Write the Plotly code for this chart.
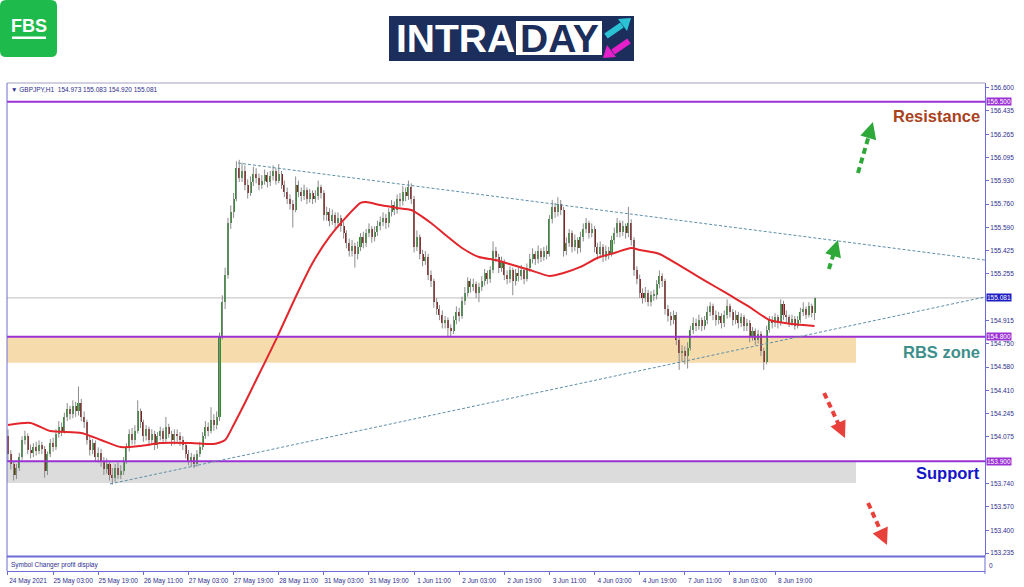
import numpy as np
import plotly.graph_objects as go

W, H = 1024, 587
def X(px): return px / W
def Y(py): return 1 - py / H

# ---------------- data (GBPJPY H1, 24 May 11:00 -> 9 Jun 09:00) ----------------
first_open = 154.08
close = [
    153.95,153.88,153.80,153.85,153.93,154.05,154.08,153.98,153.96,154.00,153.97,154.02,153.99,
    153.83,153.95,154.03,154.00,154.10,154.15,154.12,154.22,154.28,154.24,154.30,154.26,154.32,154.22,154.18,154.05,153.98,154.03,153.93,153.96,153.90,153.84,153.88,153.80,
    153.78,153.85,153.80,153.83,153.90,154.00,154.10,154.05,154.12,154.26,154.18,154.08,154.13,154.05,154.10,154.02,154.08,154.12,154.06,154.15,154.10,154.05,154.10,154.08,
    154.05,154.02,153.95,153.90,153.93,153.88,153.95,154.00,154.08,154.15,154.12,154.20,154.16,154.22,154.80,155.05,155.25,155.62,155.70,155.80,156.02,155.95,156.00,155.90,
    155.84,155.92,155.98,155.95,155.90,155.93,155.97,155.92,155.96,156.00,155.93,155.98,155.90,155.85,155.80,155.76,155.72,155.90,155.85,155.82,155.86,155.80,155.84,155.80,
    155.82,155.88,155.84,155.68,155.70,155.64,155.68,155.62,155.66,155.60,155.55,155.48,155.42,155.46,155.40,155.45,155.52,155.48,155.55,155.58,155.52,155.56,155.60,155.63,
    155.66,155.62,155.70,155.75,155.72,155.80,155.78,155.85,155.82,155.88,155.80,155.45,155.52,155.40,155.35,155.38,155.25,155.20,155.05,155.00,154.96,154.90,154.92,154.86,
    154.84,154.92,154.98,154.95,155.06,155.12,155.20,155.16,155.18,155.12,155.16,155.20,155.26,155.22,155.28,155.42,155.38,155.30,155.34,155.25,155.22,155.28,155.20,155.26,
    155.24,155.28,155.22,155.30,155.36,155.40,155.36,155.42,155.38,155.42,155.40,155.65,155.74,155.70,155.76,155.72,155.42,155.48,155.55,155.45,155.50,155.44,155.52,155.58,
    155.62,155.55,155.58,155.45,155.40,155.45,155.38,155.42,155.40,155.50,155.55,155.62,155.56,155.60,155.55,155.62,155.50,155.28,155.22,155.12,155.08,155.12,155.05,155.10,
    155.10,155.18,155.24,155.20,155.00,154.95,154.92,154.96,154.78,154.68,154.70,154.66,154.72,154.85,154.90,154.88,154.92,154.88,154.92,154.98,155.02,154.96,154.92,154.95,
    154.90,154.96,155.02,154.98,154.92,154.96,154.90,154.94,154.88,154.90,154.80,154.84,154.78,154.82,154.70,154.62,154.85,154.92,154.90,154.94,154.90,155.04,154.96,154.94,
    154.90,154.93,154.88,154.92,154.98,155.00,154.96,155.02,154.973,155.081,
]
high = [
    154.13,153.98,153.90,153.88,153.96,154.08,154.12,154.10,154.02,154.03,154.04,154.05,154.04,
    154.01,153.97,154.06,154.07,154.13,154.19,154.18,154.25,154.32,154.30,154.34,154.33,154.44,154.35,154.26,154.20,154.08,154.06,154.05,154.00,153.99,153.93,153.92,153.90,
    153.85,153.88,153.89,153.87,153.93,154.03,154.13,154.14,154.16,154.34,154.28,154.20,154.16,154.15,154.13,154.12,154.11,154.15,154.14,154.22,154.17,154.12,154.13,154.13,
    154.11,154.08,154.04,153.98,153.96,153.95,153.98,154.04,154.11,154.19,154.18,154.29,154.24,154.26,154.83,155.10,155.30,155.66,155.75,155.84,156.07,156.08,156.06,156.04,
    155.94,155.96,156.03,156.02,155.98,155.97,156.01,155.99,156.00,156.04,156.02,156.05,156.00,155.93,155.88,155.83,155.79,155.96,155.93,155.88,155.90,155.88,155.87,155.86,
    155.86,155.93,155.90,155.86,155.74,155.73,155.72,155.70,155.70,155.68,155.63,155.57,155.51,155.50,155.48,155.49,155.55,155.56,155.58,155.62,155.60,155.60,155.64,155.67,
    155.70,155.69,155.73,155.79,155.78,155.83,155.84,155.89,155.88,155.93,155.91,155.82,155.57,155.54,155.43,155.42,155.40,155.28,155.22,155.08,155.03,154.99,154.95,154.94,
    154.89,154.95,155.02,155.01,155.09,155.16,155.23,155.22,155.22,155.20,155.19,155.24,155.29,155.28,155.31,155.49,155.45,155.40,155.38,155.36,155.28,155.31,155.30,155.29,
    155.30,155.32,155.30,155.33,155.40,155.44,155.42,155.46,155.44,155.45,155.46,155.68,155.79,155.77,155.81,155.79,155.74,155.52,155.58,155.57,155.54,155.52,155.56,155.62,
    155.66,155.64,155.62,155.60,155.48,155.49,155.47,155.46,155.45,155.53,155.59,155.66,155.64,155.64,155.62,155.74,155.65,155.52,155.31,155.25,155.15,155.16,155.14,155.13,
    155.14,155.21,155.28,155.26,155.22,155.03,154.98,154.99,154.98,154.80,154.74,154.73,154.76,154.88,154.94,154.93,154.96,154.94,154.95,155.02,155.05,155.04,154.99,154.98,
    154.97,154.99,155.07,155.04,155.00,154.99,154.98,154.97,154.96,154.93,154.92,154.87,154.86,154.85,154.84,154.72,154.88,154.95,154.95,154.97,154.96,155.07,155.06,154.99,
    154.96,154.96,154.95,154.95,155.01,155.05,155.02,155.05,155.04,155.083,
]
low = [
    153.90,153.84,153.76,153.77,153.83,153.91,154.02,153.95,153.92,153.93,153.94,153.95,153.95,
    153.78,153.80,153.93,153.97,153.98,154.07,154.08,154.10,154.19,154.20,154.21,154.22,154.23,154.19,154.14,154.02,153.94,153.95,153.90,153.89,153.86,153.80,153.81,153.76,
    153.73,153.75,153.77,153.77,153.80,153.88,153.97,154.02,154.02,154.10,154.14,154.04,154.05,154.01,154.02,153.98,153.99,154.05,154.03,154.04,154.07,154.01,154.02,154.04,
    154.01,153.98,153.92,153.87,153.86,153.85,153.86,153.93,153.98,154.06,154.08,154.10,154.12,154.13,154.19,154.78,155.00,155.22,155.58,155.66,155.78,155.92,155.92,155.86,
    155.80,155.82,155.89,155.91,155.86,155.87,155.90,155.88,155.89,155.93,155.90,155.91,155.87,155.81,155.76,155.72,155.59,155.70,155.81,155.78,155.79,155.76,155.77,155.76,
    155.77,155.79,155.80,155.64,155.64,155.60,155.61,155.58,155.59,155.56,155.51,155.44,155.38,155.38,155.30,155.36,155.42,155.44,155.45,155.52,155.48,155.49,155.53,155.57,
    155.60,155.58,155.59,155.67,155.68,155.69,155.74,155.75,155.78,155.79,155.76,155.41,155.42,155.36,155.31,155.32,155.21,155.16,155.01,154.96,154.92,154.86,154.86,154.80,
    154.80,154.82,154.89,154.91,154.93,155.03,155.09,155.12,155.13,155.08,155.05,155.13,155.17,155.18,155.19,155.26,155.34,155.26,155.27,155.21,155.18,155.19,155.10,155.17,
    155.20,155.21,155.18,155.20,155.27,155.33,155.32,155.33,155.34,155.35,155.36,155.38,155.62,155.66,155.67,155.68,155.38,155.39,155.45,155.41,155.42,155.40,155.41,155.49,
    155.55,155.51,155.52,155.41,155.36,155.37,155.34,155.35,155.36,155.38,155.47,155.52,155.52,155.53,155.51,155.52,155.46,155.24,155.18,155.08,155.04,155.05,155.02,155.02,
    155.06,155.07,155.15,155.16,154.96,154.91,154.88,154.89,154.74,154.56,154.62,154.60,154.57,154.70,154.82,154.84,154.85,154.84,154.85,154.89,154.95,154.92,154.88,154.89,
    154.86,154.87,154.93,154.94,154.88,154.89,154.86,154.87,154.84,154.84,154.76,154.77,154.74,154.75,154.66,154.56,154.60,154.83,154.86,154.87,154.86,154.88,154.92,154.90,
    154.87,154.88,154.85,154.86,154.90,154.95,154.93,154.94,154.94,154.920,
]

# moving average (red line), sampled at bar indices
ma_idx = [0,8,15,26,33,40,47,54,65,73,77,80,84,88,95,102,108,114,120,125,127,132,138,143,150,156,
          161,167,173,179,185,192,197,203,209,215,221,224,231,239,245,251,257,263,270,278,286]
ma_val = [154.162,154.176,154.118,154.104,154.053,154.002,154.010,154.031,154.031,154.024,154.053,
          154.162,154.321,154.487,154.777,155.088,155.334,155.522,155.667,155.768,155.775,155.753,
          155.732,155.717,155.623,155.522,155.442,155.377,155.355,155.319,155.283,155.240,155.261,
          155.305,155.370,155.406,155.442,155.428,155.399,155.305,155.232,155.160,155.088,155.015,
          154.921,154.892,154.878]

x_tick_labels = ["24 May 2021","25 May 03:00","25 May 19:00","26 May 11:00","27 May 03:00",
                 "27 May 19:00","28 May 11:00","31 May 03:00","31 May 19:00","1 Jun 11:00",
                 "2 Jun 03:00","2 Jun 19:00","3 Jun 11:00","4 Jun 03:00","4 Jun 19:00",
                 "7 Jun 11:00","8 Jun 03:00","8 Jun 19:00"]
x_tick_step = 16
y_tick_vals = [156.600,156.435,156.265,156.095,155.930,155.760,155.590,155.425,155.255,
               154.915,154.750,154.580,154.410,154.245,154.075,153.740,153.570,153.400,153.235]

resistance_level = 156.500
rbs_level = 154.800
support_level = 153.900
last_price = 155.081
rbs_zone = [154.612, 154.800]
support_zone = [153.742, 153.900]
zone_end_bar = 300.7

upper_trend_x = [81.6, 346.45]
upper_trend_y = [156.057, 155.355]
lower_trend_x = [36.2, 346.45]
lower_trend_y = [153.735, 155.088]

# projected-move arrows: (tail bar, tail price, head bar, head price)
green_arrows = [(301.4, 155.985, 306.7, 156.354), (291.1, 155.29, 294.3, 155.50)]
red_arrows = [(289.4, 154.393, 296.8, 154.067), (305.0, 153.597, 311.7, 153.293)]

header_text = "▼ GBPJPY,H1  154.973 155.083 154.920 155.081"

# ---------------- styling ----------------
BULL = "#2f8c2f"
BEAR = "#8a1c1c"
WICK = "#8c8c8c"
AX = "#6c6cd6"
TXT = "#2e2e8c"
PURPLE = "#9b30d3"
FONT = "Liberation Sans"
X_RANGE = [-0.35, 346.45]
Y_RANGE = [153.2209, 156.636]

idx = np.arange(len(close))
cls = np.array(close)
opn = np.array([first_open] + close[:-1])
hi = np.array(high)
lo = np.array(low)
up = cls >= opn
body_base = np.minimum(opn, cls)
body_h = np.maximum(np.abs(cls - opn), 0.006)
body_col = np.where(up, BULL, BEAR)

wick_x, wick_y = [], []
for i in idx:
    wick_x += [int(i), int(i), None]
    wick_y += [float(lo[i]), float(hi[i]), None]

fig = go.Figure()
fig.add_trace(go.Scatter(x=wick_x, y=wick_y, mode="lines",
                         line=dict(color=WICK, width=1), hoverinfo="skip", showlegend=False))
fig.add_trace(go.Bar(x=idx, y=body_h, base=body_base, width=0.72,
                     marker=dict(color=body_col, line=dict(width=0)),
                     hoverinfo="skip", showlegend=False))
fig.add_trace(go.Scatter(x=ma_idx, y=ma_val, mode="lines",
                         line=dict(color="#e3262b", width=2, shape="spline", smoothing=0.6),
                         hoverinfo="skip", showlegend=False))

shapes = []
# zones
shapes.append(dict(type="rect", xref="x", yref="y", x0=X_RANGE[0], x1=zone_end_bar,
                   y0=rbs_zone[0], y1=rbs_zone[1], fillcolor="#f6dbad", line=dict(width=0), layer="below"))
shapes.append(dict(type="rect", xref="x", yref="y", x0=X_RANGE[0], x1=zone_end_bar,
                   y0=support_zone[0], y1=support_zone[1], fillcolor="#dcdcdc", line=dict(width=0), layer="below"))
# current price line
shapes.append(dict(type="line", xref="paper", yref="y", x0=X(7), x1=X(985), y0=last_price, y1=last_price,
                   line=dict(color="#bdbdbd", width=1), layer="below"))
# level lines
for lv in (resistance_level, rbs_level, support_level):
    shapes.append(dict(type="line", xref="paper", yref="y", x0=X(7), x1=X(985), y0=lv, y1=lv,
                       line=dict(color=PURPLE, width=2), layer="above"))
# trend lines
for tx, ty in ((upper_trend_x, upper_trend_y), (lower_trend_x, lower_trend_y)):
    shapes.append(dict(type="line", xref="x", yref="y", x0=tx[0], x1=tx[1], y0=ty[0], y1=ty[1],
                       line=dict(color="#5d8fa6", width=1, dash="3px,2px")))
# frame
shapes.append(dict(type="line", xref="paper", yref="paper", x0=X(7), x1=X(985), y0=Y(83), y1=Y(83),
                   line=dict(color="#a2a2c4", width=1)))
shapes.append(dict(type="line", xref="paper", yref="paper", x0=X(7), x1=X(7), y0=Y(83), y1=Y(571),
                   line=dict(color=AX, width=1)))
shapes.append(dict(type="line", xref="paper", yref="paper", x0=X(7), x1=X(985), y0=Y(556.5), y1=Y(556.5),
                   line=dict(color=AX, width=2)))
shapes.append(dict(type="line", xref="paper", yref="paper", x0=X(985), x1=X(985), y0=Y(555), y1=Y(574),
                   line=dict(color=AX, width=1)))

annotations = []
# arrows
for arrows, col in ((green_arrows, "#2fa83a"), (red_arrows, "#e8413c")):
    for tx, ty, hx, hy in arrows:
        sx, sy = tx + 0.78 * (hx - tx), ty + 0.78 * (hy - ty)
        shapes.append(dict(type="line", xref="x", yref="y", x0=tx, y0=ty, x1=sx, y1=sy,
                           line=dict(color=col, width=4, dash="6px,4px")))
        ax_, ay_ = tx + 0.72 * (hx - tx), ty + 0.72 * (hy - ty)
        annotations.append(dict(x=hx, y=hy, ax=ax_, ay=ay_, xref="x", yref="y", axref="x", ayref="y",
                                text="", showarrow=True, arrowhead=2, arrowsize=1.1,
                                arrowwidth=3, arrowcolor=col))

# highlighted price labels on the axis
for lv, bg in ((resistance_level, PURPLE), (last_price, "#1d1dc4"), (rbs_level, PURPLE), (support_level, PURPLE)):
    annotations.append(dict(x=X(986), y=lv, xref="paper", yref="y", xanchor="left", yanchor="middle",
                            text=f"{lv:.3f}", showarrow=False, bgcolor=bg, borderpad=0,
                            font=dict(family=FONT, size=6.5, color="white")))

# zone titles
for txt, lv, col in (("Resistance", 156.397, "#a9421d"), ("RBS zone", 154.690, "#3e8f8b"),
                     ("Support", 153.814, "#1515c8")):
    annotations.append(dict(x=X(982), y=lv, xref="paper", yref="y", xanchor="right", yanchor="middle",
                            text=f"<b>{txt}</b>", showarrow=False,
                            font=dict(family=FONT, size=16.5, color=col)))

# header & sub-window texts
annotations.append(dict(x=X(9), y=Y(89), xref="paper", yref="paper", xanchor="left", yanchor="middle",
                        text=header_text, showarrow=False, font=dict(family=FONT, size=6.5, color=TXT)))
annotations.append(dict(x=X(9), y=Y(564.5), xref="paper", yref="paper", xanchor="left", yanchor="middle",
                        text="Symbol Changer profit display", showarrow=False,
                        font=dict(family=FONT, size=6.5, color=TXT)))
annotations.append(dict(x=X(987), y=Y(565), xref="paper", yref="paper", xanchor="left", yanchor="middle",
                        text="0", showarrow=False, font=dict(family=FONT, size=6.5, color=TXT)))

# ---------------- logos ----------------
def rrect(x0, y0, x1, y1, r):
    return (f"M{X(x0+r)},{Y(y0)} L{X(x1-r)},{Y(y0)} Q{X(x1)},{Y(y0)} {X(x1)},{Y(y0+r)} "
            f"L{X(x1)},{Y(y1-r)} Q{X(x1)},{Y(y1)} {X(x1-r)},{Y(y1)} L{X(x0+r)},{Y(y1)} "
            f"Q{X(x0)},{Y(y1)} {X(x0)},{Y(y1-r)} L{X(x0)},{Y(y0+r)} Q{X(x0)},{Y(y0)} {X(x0+r)},{Y(y0)} Z")

shapes.append(dict(type="path", xref="paper", yref="paper", path=rrect(0, 0, 57, 57, 6),
                   fillcolor="#1fba4c", line=dict(width=0)))
shapes.append(dict(type="rect", xref="paper", yref="paper", x0=X(12), x1=X(46), y0=Y(39), y1=Y(36.5),
                   fillcolor="white", line=dict(width=0)))
annotations.append(dict(x=X(29), y=Y(26), xref="paper", yref="paper", xanchor="center", yanchor="middle",
                        text="<b>FBS</b>", showarrow=False,
                        font=dict(family=FONT, size=18, color="white")))

shapes.append(dict(type="rect", xref="paper", yref="paper", x0=X(389), x1=X(634), y0=Y(61), y1=Y(16),
                   fillcolor="#1c2e5c", line=dict(width=0)))
shapes.append(dict(type="rect", xref="paper", yref="paper", x0=X(516), x1=X(602), y0=Y(55), y1=Y(21),
                   fillcolor="white", line=dict(width=0)))
annotations.append(dict(x=X(394), y=Y(39), xref="paper", yref="paper", xanchor="left", yanchor="middle",
                        text="<b>INTRA</b>", showarrow=False, font=dict(family=FONT, size=39, color="white")))
annotations.append(dict(x=X(559), y=Y(39), xref="paper", yref="paper", xanchor="center", yanchor="middle",
                        text="<b>DAY</b>", showarrow=False, font=dict(family=FONT, size=39, color="#1c2e5c")))
# logo arrows
shapes.append(dict(type="line", xref="paper", yref="paper", x0=X(606), y0=Y(36), x1=X(622), y1=Y(25),
                   line=dict(color="#2cc2d6", width=6)))
shapes.append(dict(type="path", xref="paper", yref="paper",
                   path=f"M{X(631)},{Y(18)} L{X(627)},{Y(31)} L{X(618)},{Y(19)} Z",
                   fillcolor="#2cc2d6", line=dict(width=0)))
shapes.append(dict(type="line", xref="paper", yref="paper", x0=X(629), y0=Y(41), x1=X(613), y1=Y(52),
                   line=dict(color="#e51fc9", width=6)))
shapes.append(dict(type="path", xref="paper", yref="paper",
                   path=f"M{X(603)},{Y(58)} L{X(607)},{Y(45)} L{X(616)},{Y(57)} Z",
                   fillcolor="#e51fc9", line=dict(width=0)))

fig.update_layout(
    width=W, height=H, autosize=False,
    margin=dict(l=0, r=0, t=0, b=0),
    paper_bgcolor="white", plot_bgcolor="white",
    showlegend=False, barmode="overlay", bargap=0,
    font=dict(family=FONT, size=7, color=TXT),
    xaxis=dict(domain=[X(7), X(985)], range=X_RANGE, anchor="free", position=Y(571),
               showgrid=False, zeroline=False, showline=True, linecolor=AX, linewidth=1,
               tickmode="array", tickvals=[k * x_tick_step for k in range(len(x_tick_labels))],
               ticktext=x_tick_labels, ticks="outside", ticklen=3, tickcolor=AX,
               tickfont=dict(family=FONT, size=6.5, color=TXT), ticklabelshift=20,
               fixedrange=True),
    yaxis=dict(domain=[Y(555), Y(83)], range=Y_RANGE, side="right", anchor="x",
               showgrid=False, zeroline=False, showline=True, linecolor=AX, linewidth=1,
               tickmode="array", tickvals=y_tick_vals, ticktext=[f"{v:.3f}" for v in y_tick_vals],
               ticks="outside", ticklen=3, tickcolor=AX,
               tickfont=dict(family=FONT, size=6.5, color=TXT), fixedrange=True),
    shapes=shapes,
    annotations=annotations,
)

fig.write_html("out.html", config={"displayModeBar": False},
               post_script="document.body.style.margin='0';document.body.style.overflow='hidden';")
